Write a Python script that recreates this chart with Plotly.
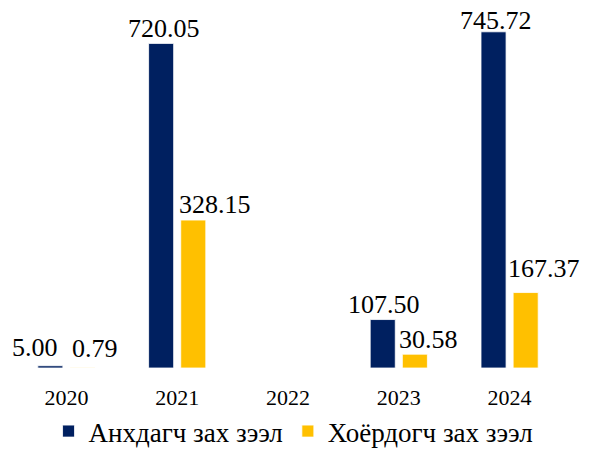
import plotly.graph_objects as go

years = ["2020", "2021", "2022", "2023", "2024"]
primary = [5.00, 720.05, None, 107.50, 745.72]
secondary = [0.79, 328.15, None, 30.58, 167.37]
names = ["Анхдагч зах зээл", "Хоёрдогч зах зээл"]
colors = ["#002060", "#FFC000"]

# label placement (px): horizontal nudge from bar centre, gap between text baseline and bar top
label_dx = [[-15.5, 2.5, 0, 1, 2], [13, 21.5, 0, 13.5, 18.5]]
label_gap = [[9, 5, 0, 6, 2], [10, 6, 0, 5, 15]]

font = "Liberation Serif, Times New Roman, DejaVu Serif, serif"
LABEL_SIZE = 26
bar_half_slot = 16  # px, offset of each bar centre from category centre

fig = go.Figure()
for i, (vals, name, col) in enumerate(zip([primary, secondary], names, colors)):
    fig.add_trace(go.Bar(
        x=years, y=vals, name=name,
        marker=dict(color=col, line=dict(color="white", width=0.8)),
        cliponaxis=False,
    ))
    side = -1 if i == 0 else 1
    for j, v in enumerate(vals):
        if v is None:
            continue
        fig.add_annotation(
            x=j, y=v, xref="x", yref="y", text=f"{v:.2f}", showarrow=False,
            yanchor="bottom", xanchor="center",
            xshift=side * bar_half_slot + label_dx[i][j],
            yshift=label_gap[i][j] - 7,
            font=dict(family=font, size=LABEL_SIZE, color="black"),
        )

fig.update_layout(
    width=597, height=449,
    margin=dict(l=11, r=32, t=15, b=81, autoexpand=False),
    barmode="group", bargap=0.42, bargroupgap=0.22,
    plot_bgcolor="white", paper_bgcolor="white",
    font=dict(family=font, size=22, color="black"),
    showlegend=True,
    legend=dict(orientation="h", x=0.51, xanchor="center", y=-0.18, yanchor="middle",
                font=dict(family=font, size=27, color="black"), itemwidth=30,
                traceorder="normal"),
    xaxis=dict(type="category", range=[-0.5, 4.5], autorange=False,
               showline=False, showgrid=False, ticks="",
               tickfont=dict(family=font, size=22), automargin=False,
               ticklabelstandoff=14),
    yaxis=dict(visible=False, range=[0, 783], autorange=False),
)

fig.write_html("out.html")
